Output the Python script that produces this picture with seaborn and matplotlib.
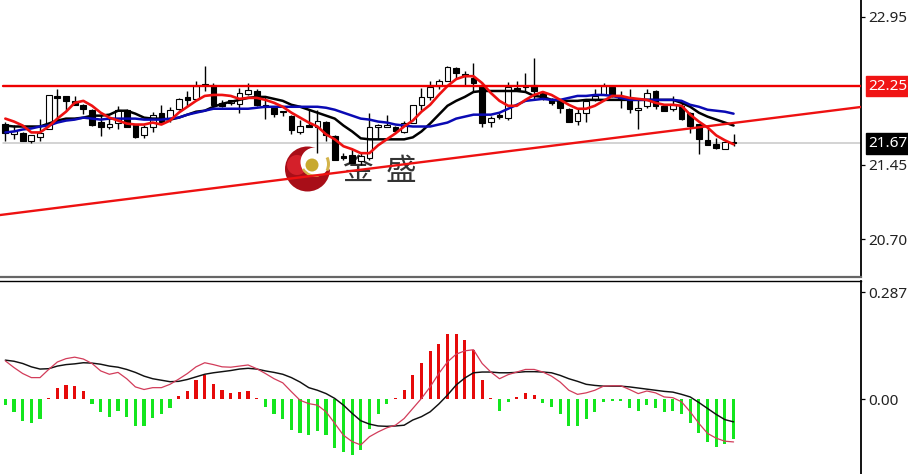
import matplotlib
matplotlib.use("Agg")
import matplotlib.pyplot as plt
from matplotlib.patches import Circle, Wedge
import seaborn as sns
import pandas as pd

# candles
opens = [21.87, 21.76, 21.77, 21.69, 21.73, 21.81, 22.15, 22.15, 22.10, 22.06,
         22.01, 21.89, 21.84, 21.88, 22.01, 21.86, 21.75, 21.84, 21.98, 21.92,
         22.02, 22.14, 22.12, 22.27, 22.26, 22.08, 22.08, 22.07, 22.17, 22.20,
         22.06, 22.03, 21.99, 21.95, 21.78, 21.86, 21.84, 21.89, 21.74, 21.54,
         21.55, 21.49, 21.52, 21.84, 21.84, 21.84, 21.78, 21.88, 22.06, 22.14,
         22.25, 22.30, 22.43, 22.37, 22.33, 22.25, 21.89, 21.95, 21.93, 22.23,
         22.25, 22.26, 22.18, 22.11, 22.10, 22.02, 21.90, 21.98, 22.11, 22.16,
         22.24, 22.15, 22.13, 22.01, 22.05, 22.20, 22.05, 22.02, 22.05, 21.98,
         21.87, 21.70, 21.66, 21.61, 21.68]
closes = [21.77, 21.79, 21.69, 21.75, 21.77, 22.16, 22.13, 22.10, 22.06, 22.02,
          21.86, 21.84, 21.87, 22.01, 21.84, 21.73, 21.83, 21.96, 21.89, 22.01,
          22.12, 22.11, 22.25, 22.26, 22.06, 22.05, 22.11, 22.18, 22.21, 22.06,
          22.04, 21.97, 21.99, 21.80, 21.85, 21.83, 21.90, 21.75, 21.50, 21.52,
          21.47, 21.54, 21.84, 21.84, 21.84, 21.79, 21.88, 22.06, 22.14, 22.24,
          22.30, 22.44, 22.38, 22.35, 22.28, 21.88, 21.93, 21.94, 22.24, 22.21,
          22.24, 22.20, 22.13, 22.08, 22.03, 21.89, 21.98, 22.10, 22.15, 22.25,
          22.15, 22.13, 22.02, 22.03, 22.18, 22.05, 22.00, 22.06, 21.92, 21.85,
          21.71, 21.65, 21.62, 21.68, 21.67]
highs = [21.89, 21.86, 21.78, 21.75, 21.92, 22.16, 22.22, 22.15, 22.15, 22.07,
         22.02, 21.96, 21.93, 22.05, 22.02, 21.86, 21.86, 21.99, 22.06, 22.04,
         22.13, 22.20, 22.30, 22.45, 22.28, 22.11, 22.11, 22.23, 22.28, 22.22,
         22.15, 22.05, 22.00, 21.96, 21.91, 22.01, 22.01, 21.90, 21.75, 21.57,
         21.61, 21.57, 21.98, 21.87, 21.96, 21.85, 21.90, 22.06, 22.23, 22.30,
         22.32, 22.45, 22.44, 22.40, 22.48, 22.28, 21.95, 21.98, 22.29, 22.30,
         22.38, 22.53, 22.20, 22.13, 22.11, 22.03, 22.02, 22.11, 22.22, 22.28,
         22.26, 22.20, 22.22, 22.13, 22.22, 22.21, 22.06, 22.15, 22.08, 21.99,
         21.87, 21.82, 21.72, 21.68, 21.76]
lows = [21.69, 21.71, 21.69, 21.67, 21.69, 21.81, 21.89, 22.01, 22.06, 21.97,
        21.85, 21.74, 21.81, 21.81, 21.84, 21.72, 21.72, 21.78, 21.88, 21.89,
        22.01, 22.05, 22.11, 22.20, 22.05, 22.04, 22.06, 21.98, 22.16, 22.05,
        21.92, 21.94, 21.95, 21.76, 21.76, 21.83, 21.57, 21.69, 21.50, 21.50,
        21.47, 21.45, 21.50, 21.71, 21.83, 21.78, 21.77, 21.88, 22.01, 22.11,
        22.22, 22.30, 22.32, 22.25, 22.20, 21.84, 21.84, 21.92, 21.91, 22.20,
        22.20, 22.11, 22.11, 22.06, 21.98, 21.89, 21.86, 21.89, 22.10, 22.16,
        22.14, 22.03, 21.98, 21.81, 22.03, 22.02, 22.00, 22.00, 21.91, 21.77,
        21.56, 21.65, 21.61, 21.61, 21.64]

# moving averages
ma_red = [21.92, 21.89, 21.85, 21.78, 21.78, 21.84, 21.92, 21.99, 22.08, 22.10,
          22.05, 21.98, 21.93, 21.90, 21.87, 21.86, 21.86, 21.88, 21.86, 21.90,
          21.98, 22.04, 22.10, 22.15, 22.16, 22.16, 22.15, 22.12, 22.13, 22.13,
          22.11, 22.08, 22.04, 21.98, 21.93, 21.88, 21.84, 21.76, 21.71, 21.64,
          21.61, 21.57, 21.57, 21.65, 21.71, 21.77, 21.84, 21.90, 21.99, 22.06,
          22.16, 22.25, 22.32, 22.35, 22.35, 22.28, 22.18, 22.10, 22.05, 22.05,
          22.11, 22.16, 22.19, 22.16, 22.11, 22.06, 22.02, 22.02, 22.05, 22.10,
          22.15, 22.15, 22.13, 22.12, 22.11, 22.08, 22.06, 22.06, 22.05, 21.96,
          21.89, 21.83, 21.75, 21.70, 21.66]
ma_black = [21.85, 21.84, 21.84, 21.84, 21.84, 21.87, 21.90, 21.92, 21.92, 21.93,
            21.95, 21.95, 21.96, 22.00, 22.00, 21.97, 21.93, 21.92, 21.92, 21.91,
            21.93, 21.96, 21.99, 22.00, 22.04, 22.07, 22.09, 22.11, 22.13, 22.14,
            22.14, 22.12, 22.10, 22.06, 22.04, 22.01, 21.98, 21.95, 21.92, 21.85,
            21.79, 21.72, 21.71, 21.71, 21.71, 21.71, 21.71, 21.73, 21.79, 21.87,
            21.96, 22.05, 22.10, 22.14, 22.19, 22.20, 22.20, 22.20, 22.20, 22.20,
            22.19, 22.15, 22.14, 22.11, 22.10, 22.10, 22.10, 22.11, 22.11, 22.11,
            22.11, 22.11, 22.11, 22.11, 22.11, 22.11, 22.11, 22.11, 22.08, 22.04,
            21.98, 21.94, 21.91, 21.88, 21.85]
ma_blue = [21.78, 21.79, 21.81, 21.82, 21.84, 21.85, 21.88, 21.90, 21.91, 21.93,
           21.92, 21.91, 21.92, 21.92, 21.92, 21.92, 21.91, 21.91, 21.91, 21.92,
           21.93, 21.96, 21.98, 22.00, 22.02, 22.02, 22.02, 22.02, 22.02, 22.03,
           22.04, 22.04, 22.04, 22.04, 22.04, 22.04, 22.04, 22.03, 22.01, 21.98,
           21.95, 21.92, 21.91, 21.89, 21.88, 21.86, 21.85, 21.84, 21.84, 21.84,
           21.86, 21.88, 21.92, 21.94, 21.96, 21.96, 21.96, 21.98, 22.02, 22.06,
           22.10, 22.11, 22.12, 22.11, 22.11, 22.13, 22.15, 22.15, 22.16, 22.16,
           22.15, 22.13, 22.11, 22.11, 22.11, 22.11, 22.11, 22.11, 22.10, 22.06,
           22.04, 22.01, 22.00, 21.99, 21.97]

# lower panel
hist = [-0.016, -0.034, -0.058, -0.065, -0.053, 0.003, 0.029, 0.038, 0.035, 0.022,
        -0.012, -0.034, -0.047, -0.032, -0.047, -0.072, -0.072, -0.050, -0.041, -0.023,
        0.008, 0.022, 0.051, 0.066, 0.040, 0.026, 0.017, 0.020, 0.022, 0.003,
        -0.020, -0.041, -0.053, -0.083, -0.092, -0.097, -0.086, -0.097, -0.131, -0.143,
        -0.149, -0.137, -0.080, -0.040, -0.013, 0.003, 0.026, 0.064, 0.096, 0.129,
        0.149, 0.176, 0.174, 0.158, 0.133, 0.051, 0.002, -0.031, -0.008, 0.006,
        0.017, 0.010, -0.010, -0.022, -0.041, -0.072, -0.072, -0.054, -0.034, -0.007,
        -0.004, -0.004, -0.023, -0.032, -0.016, -0.025, -0.034, -0.032, -0.040, -0.063,
        -0.092, -0.116, -0.128, -0.121, -0.108]
signal = [0.105, 0.102, 0.096, 0.087, 0.081, 0.082, 0.089, 0.093, 0.095, 0.098,
          0.097, 0.094, 0.089, 0.086, 0.080, 0.072, 0.062, 0.055, 0.051, 0.047,
          0.048, 0.053, 0.060, 0.067, 0.071, 0.074, 0.077, 0.081, 0.083, 0.081,
          0.076, 0.072, 0.067, 0.058, 0.046, 0.031, 0.024, 0.015, 0.002, -0.016,
          -0.038, -0.058, -0.067, -0.072, -0.073, -0.072, -0.070, -0.056, -0.047, -0.034,
          -0.013, 0.011, 0.038, 0.057, 0.071, 0.073, 0.073, 0.071, 0.071, 0.072,
          0.074, 0.074, 0.073, 0.071, 0.064, 0.055, 0.048, 0.040, 0.037, 0.035,
          0.035, 0.035, 0.033, 0.030, 0.027, 0.024, 0.021, 0.019, 0.013, 0.006,
          -0.009, -0.025, -0.041, -0.055, -0.061]
macd = [0.103, 0.085, 0.069, 0.058, 0.058, 0.080, 0.100, 0.109, 0.113, 0.108,
        0.096, 0.076, 0.067, 0.072, 0.055, 0.033, 0.026, 0.031, 0.031, 0.040,
        0.054, 0.069, 0.087, 0.098, 0.093, 0.087, 0.086, 0.089, 0.092, 0.082,
        0.069, 0.055, 0.044, 0.020, -0.003, -0.012, -0.016, -0.034, -0.065, -0.097,
        -0.114, -0.123, -0.101, -0.088, -0.077, -0.070, -0.052, -0.025, 0.002, 0.033,
        0.069, 0.100, 0.121, 0.130, 0.133, 0.096, 0.073, 0.055, 0.066, 0.073,
        0.080, 0.080, 0.073, 0.062, 0.046, 0.024, 0.013, 0.017, 0.024, 0.035,
        0.036, 0.036, 0.026, 0.015, 0.022, 0.017, 0.006, 0.004, -0.007, -0.034,
        -0.065, -0.092, -0.105, -0.113, -0.115]

price_ticks = [22.95, 21.45, 20.70]
macd_ticks = [0.287, 0.00]
resistance = 22.25
last_price = 21.67
trend_x = [-0.615, 98.7]
trend_y = [20.943, 22.038]

sns.set_style("white")
plt.rcParams['font.family'] = ['Noto Sans', 'Noto Sans CJK SC', 'DejaVu Sans']

W, H = 908, 474
AX_RIGHT = 861
bars = list(range(len(closes)))
df = pd.DataFrame({'bar': bars, 'open': opens, 'close': closes, 'high': highs, 'low': lows})
df['up'] = df['close'] >= df['open']
df_hist = pd.DataFrame({'bar': bars, 'value': hist, 'side': ['up' if v > 0 else 'down' for v in hist]})

fig = plt.figure(figsize=(W / 100, H / 100), dpi=100, facecolor='white')

# logo sits behind everything, in pixel coords
logo = fig.add_axes([0, 0, 1, 1], zorder=0)
logo.set_xlim(0, W)
logo.set_ylim(H, 0)
logo.axis('off')
logo.add_patch(Circle((307.5, 169), 22.5, color='#a80e18', lw=0))
logo.add_patch(Circle((297, 165), 10, color='#d4202a', lw=0))
logo.add_patch(Circle((315, 162), 14.5, color='white', lw=0))
logo.add_patch(Circle((326, 158), 12, color='white', lw=0))
logo.add_patch(Wedge((315, 162), 15, 75, 150, width=2.4, color='#d3b34a', lw=0))
logo.add_patch(Wedge((313, 164), 17, -25, 25, width=3, color='#d3b34a', lw=0))
logo.add_patch(Circle((312, 165), 6.5, color='#c8a92e', lw=0))
logo.text(357, 171, '金', fontsize=22, color='#333333', ha='center', va='center',
          family=['Noto Sans CJK SC'])
logo.text(401, 171, '盛', fontsize=22, color='#333333', ha='center', va='center',
          family=['Noto Sans CJK SC'])

ax = fig.add_axes([0, 1 - 277 / H, AX_RIGHT / W, 277 / H], zorder=2)
ax2 = fig.add_axes([0, 0, AX_RIGHT / W, (H - 281) / H], zorder=2, sharex=ax)
ax.patch.set_alpha(0)
ax2.patch.set_alpha(0)

# gray last-price line and the two red drawn lines
ax.axhline(last_price, xmin=3 / AX_RIGHT, color='#c8c8c8', lw=1.1, zorder=1)

# candles
ax.vlines(df['bar'], df['low'], df['high'], color='black', lw=1.0, zorder=2)
body_low = df[['open', 'close']].min(axis=1)
body_h = (df['close'] - df['open']).abs().clip(lower=0.012)
ax.bar(df['bar'], body_h, bottom=body_low, width=0.66,
       color=['white' if u else 'black' for u in df['up']],
       edgecolor='black', linewidth=0.8, zorder=3)

sns.lineplot(x=bars, y=ma_black, ax=ax, color='black', lw=1.8, zorder=4)
sns.lineplot(x=bars, y=ma_blue, ax=ax, color='#0a0ab4', lw=1.8, zorder=4)
sns.lineplot(x=bars, y=ma_red, ax=ax, color='#ee1111', lw=1.9, zorder=5)
ax.axhline(resistance, xmin=3 / AX_RIGHT, color='#ee0000', lw=1.7, zorder=5)
sns.lineplot(x=trend_x, y=trend_y, ax=ax, color='#ee1111', lw=1.7, zorder=5)

ax.set_xlim(trend_x)
ax.set_ylim(20.315, 23.122)

# lower panel
sns.barplot(data=df_hist, x='bar', y='value', hue='side', ax=ax2, native_scale=True,
            dodge=False, width=0.37, legend=False, saturation=1, linewidth=0,
            palette={'up': '#e60a0a', 'down': '#14e61e'}, zorder=2)
sns.lineplot(x=bars, y=signal, ax=ax2, color='#111111', lw=1.05, zorder=3)
sns.lineplot(x=bars, y=macd, ax=ax2, color='#d23c5a', lw=0.9, zorder=4)
ax2.set_xlim(trend_x)
ax2.set_ylim(-0.2012, 0.3178)

for a, ticks, fmt in ((ax, price_ticks, '{:.2f}'), (ax2, macd_ticks, None)):
    a.yaxis.tick_right()
    a.set_yticks(ticks)
    a.set_yticklabels(['0.287', '0.00'] if fmt is None else [fmt.format(t) for t in ticks])
    a.tick_params(axis='y', length=3, width=0.9, color='black', pad=2.5,
                  labelsize=11, labelcolor='#222222', right=True)
    a.tick_params(axis='x', bottom=False, labelbottom=False)
    a.set_xlabel('')
    a.set_ylabel('')
    for s in ('left', 'top', 'bottom'):
        a.spines[s].set_visible(False)
    a.spines['right'].set_visible(True)
    a.spines['right'].set_color('black')
    a.spines['right'].set_linewidth(1.3)
    a.grid(False)

# pane separators
ax.spines['bottom'].set_visible(True)
ax.spines['bottom'].set_color('#666666')
ax.spines['bottom'].set_linewidth(1.6)
ax2.spines['top'].set_visible(True)
ax2.spines['top'].set_color('black')
ax2.spines['top'].set_linewidth(1.0)

# boxed price labels on the scale
for val, bg in ((resistance, '#f01414'), (last_price, 'black')):
    ax.text(1.0085, val, f'{val:.2f}', transform=ax.get_yaxis_transform(), ha='left',
            va='center', fontsize=11, color='white', zorder=8, clip_on=False,
            bbox=dict(boxstyle='square,pad=0.18', fc=bg, ec=bg))

fig.savefig('out.png', dpi=100)
